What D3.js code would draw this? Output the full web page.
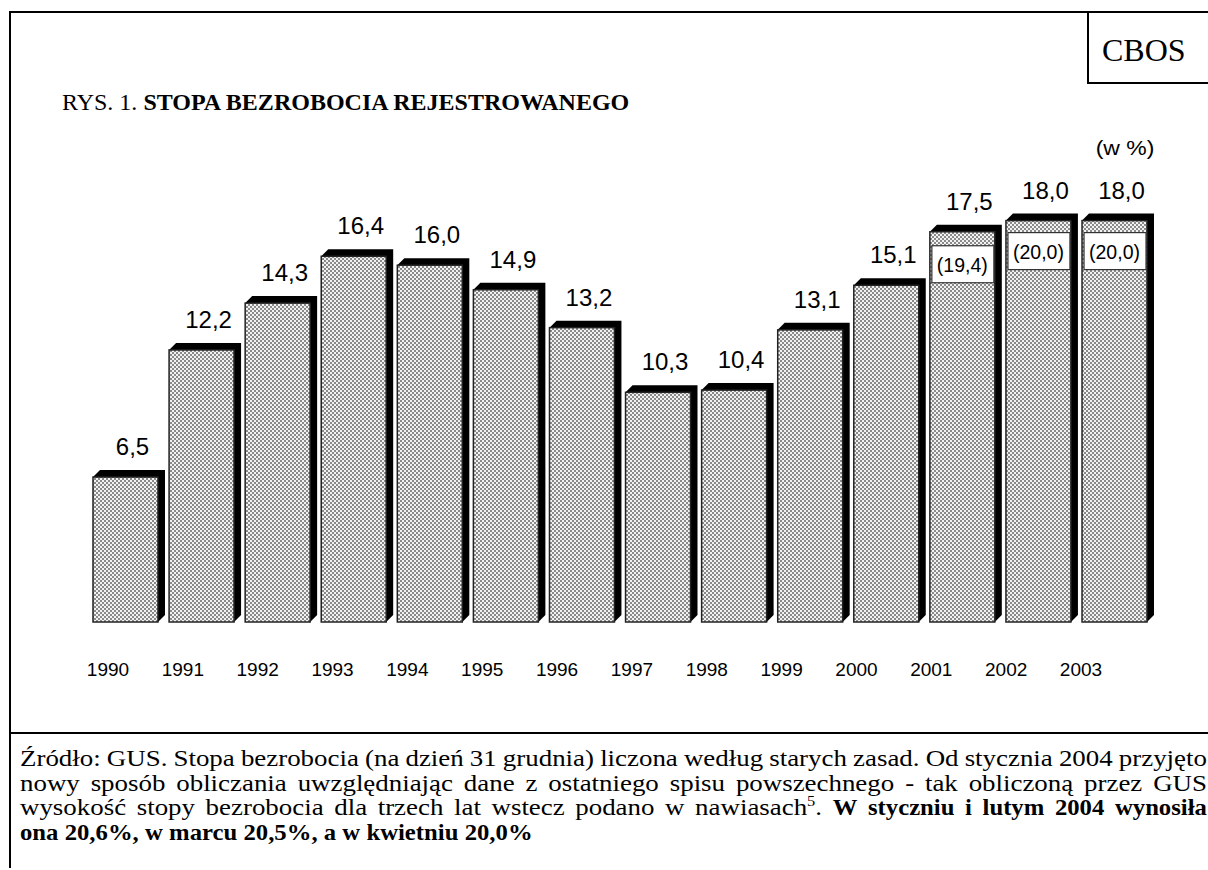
<!DOCTYPE html>
<html>
<head>
<meta charset="utf-8">
<script src="https://cdn.jsdelivr.net/npm/d3@7"></script>
<style>
  body { margin: 0; background: #fff; }
  svg { display: block; }
</style>
</head>
<body>
<svg id="svg" width="1208" height="870"></svg>
<script>
// data
var years = [1990, 1991, 1992, 1993, 1994, 1995, 1996, 1997, 1998, 1999, 2000, 2001, 2002, 2003];
var rates = [6.5, 12.2, 14.3, 16.4, 16.0, 14.9, 13.2, 10.3, 10.4, 13.1, 15.1, 17.5, 18.0, 18.0];
// recalculated values (new method), shown in brackets
var revisedYears = [2001, 2002, 2003];
var revisedRates = [19.4, 20.0, 20.0];

// footnote: each line is a list of words, a word is a list of runs
var footLines = [
  "Źródło: GUS. Stopa bezrobocia (na dzień 31 grudnia) liczona według starych zasad. Od stycznia 2004 przyjęto".split(" ").map(function(w){ return [{t: w}]; }),
  "nowy sposób obliczania uwzględniając dane z ostatniego spisu powszechnego - tak obliczoną przez GUS".split(" ").map(function(w){ return [{t: w}]; }),
  "wysokość stopy bezrobocia dla trzech lat wstecz podano w".split(" ").map(function(w){ return [{t: w}]; })
    .concat([[{t: "nawiasach"}, {t: "5", sup: true}, {t: "."}]])
    .concat("W styczniu i lutym 2004 wynosiła".split(" ").map(function(w){ return [{t: w, b: true}]; })),
  "ona 20,6%, w marcu 20,5%, a w kwietniu 20,0%".split(" ").map(function(w){ return [{t: w, b: true}]; })
];

var svg = d3.select("#svg");
var serif = "'Liberation Serif', 'Times New Roman', serif";
var sans = "'Liberation Sans', Arial, sans-serif";
var fmt = function(v){ return d3.format(".1f")(v).replace(".", ","); };

// checker fill used by the bars
var defs = svg.append("defs");
var pat = defs.append("pattern").attr("id", "chk")
  .attr("width", 4).attr("height", 4).attr("patternUnits", "userSpaceOnUse");
pat.append("rect").attr("width", 4).attr("height", 4).attr("fill", "#f2f2f2");
pat.append("rect").attr("width", 2).attr("height", 2).attr("fill", "#8a8a8a");
pat.append("rect").attr("x", 2).attr("y", 2).attr("width", 2).attr("height", 2).attr("fill", "#8a8a8a");

// frame
var frame = svg.append("g").attr("stroke", "#000").attr("stroke-width", 2).attr("fill", "none");
frame.append("line").attr("x1", 10).attr("y1", 12).attr("x2", 1208).attr("y2", 12);
frame.append("line").attr("x1", 10).attr("y1", 11).attr("x2", 10).attr("y2", 868);
frame.append("line").attr("x1", 10).attr("y1", 733).attr("x2", 1208).attr("y2", 733);
frame.append("line").attr("x1", 1088).attr("y1", 12).attr("x2", 1088).attr("y2", 84);
frame.append("line").attr("x1", 1087).attr("y1", 83).attr("x2", 1208).attr("y2", 83);

svg.append("text").attr("x", 1102).attr("y", 61)
  .attr("font-family", serif).attr("font-size", 32).text("CBOS");

var title = svg.append("text").attr("x", 62).attr("y", 110)
  .attr("font-family", serif).attr("font-size", 24);
title.append("tspan").text("RYS. 1. ");
title.append("tspan").attr("font-weight", "bold").text("STOPA BEZROBOCIA REJESTROWANEGO");

svg.append("text").attr("transform", "translate(1125,155) scale(1.12,1)").attr("text-anchor", "middle")
  .attr("font-family", sans).attr("font-size", 20.5).text("(w %)");

// scales
var x = d3.scaleBand().domain(years).range([93, 1147]).paddingInner(0.146).paddingOuter(0);
var y = d3.scaleLinear().domain([0, 20]).range([622, 176]);
var xLab = d3.scalePoint().domain(years).range([108, 1081]);
var dep = 7;
var bw = x.bandwidth();
var base = y(0);

var data = years.map(function(yr, i){ return {year: yr, v: rates[i]}; });

var bars = svg.append("g");
// black depth: top and right faces
bars.selectAll("path.side").data(data).enter().append("path")
  .attr("class", "side")
  .attr("fill", "#000")
  .attr("d", function(d){
    var x0 = x(d.year), x1 = x0 + bw, t = y(d.v);
    return "M" + x0 + "," + t + "L" + (x0 + dep) + "," + (t - dep) + "L" + (x1 + dep) + "," + (t - dep) +
      "L" + (x1 + dep) + "," + (base - dep) + "L" + x1 + "," + base + "Z";
  });
bars.selectAll("rect.front").data(data).enter().append("rect")
  .attr("class", "front")
  .attr("x", function(d){ return x(d.year); })
  .attr("y", function(d){ return y(d.v); })
  .attr("width", bw)
  .attr("height", function(d){ return base - y(d.v); })
  .attr("fill", "url(#chk)")
  .attr("stroke", "#222").attr("stroke-width", 1.5);

svg.append("g").selectAll("text").data(data).enter().append("text")
  .attr("x", function(d){ return x(d.year) + bw / 2 + 7; })
  .attr("y", function(d){ return y(d.v) - 22; })
  .attr("text-anchor", "middle")
  .attr("font-family", sans).attr("font-size", 24)
  .text(function(d){ return fmt(d.v); });

// bracketed values from the new method
var rev = revisedYears.map(function(yr, i){ return {year: yr, v: rates[years.indexOf(yr)], r: revisedRates[i]}; });
var rg = svg.append("g").selectAll("g").data(rev).enter().append("g")
  .attr("transform", function(d){ return "translate(" + x(d.year) + "," + (y(d.v) + (d.r < 20 ? 14 : 12)) + ")"; });
rg.append("rect").attr("x", 2).attr("width", bw - 3).attr("height", 37)
  .attr("fill", "#fff").attr("stroke", "#333").attr("stroke-width", 1.2);
rg.append("text").attr("x", bw / 2).attr("y", 26).attr("text-anchor", "middle")
  .attr("font-family", sans).attr("font-size", 19.5)
  .text(function(d){ return "(" + fmt(d.r) + ")"; });

svg.append("g").selectAll("text").data(years).enter().append("text")
  .attr("x", function(d){ return xLab(d); })
  .attr("y", 676)
  .attr("text-anchor", "middle")
  .attr("font-family", sans).attr("font-size", 19)
  .text(function(d){ return d; });

// footnote, the scan is a bit wide so the glyphs are stretched sideways
var left = 20, right = 1207, fy = 766, lh = 24.5, fs = 23, sx = 1.17, sxb = 1.075;
footLines.forEach(function(words, li){
  var g = svg.append("g");
  var els = words.map(function(w){
    var te = g.append("text").attr("font-family", serif).attr("font-size", fs);
    w.forEach(function(p, k){
      var ts = te.append("tspan").text(p.t);
      if (p.b) ts.attr("font-weight", "bold");
      if (p.sup) ts.attr("font-size", 14).attr("dy", -9);
      else if (k > 0 && w[k - 1].sup) ts.attr("dy", 9);
    });
    te.datum(w[0].b ? sxb : sx);
    return te;
  });
  var widths = els.map(function(e){ return e.node().getComputedTextLength() * e.datum(); });
  var total = d3.sum(widths);
  var last = li === footLines.length - 1;
  var gap = last ? fs * 0.25 * sxb : (right - left - total) / (els.length - 1);
  var cx = left;
  els.forEach(function(e, i){
    e.attr("transform", "translate(" + cx + "," + (fy + li * lh) + ") scale(" + e.datum() + ",1)");
    cx += widths[i] + gap;
  });
});
</script>
</body>
</html>
